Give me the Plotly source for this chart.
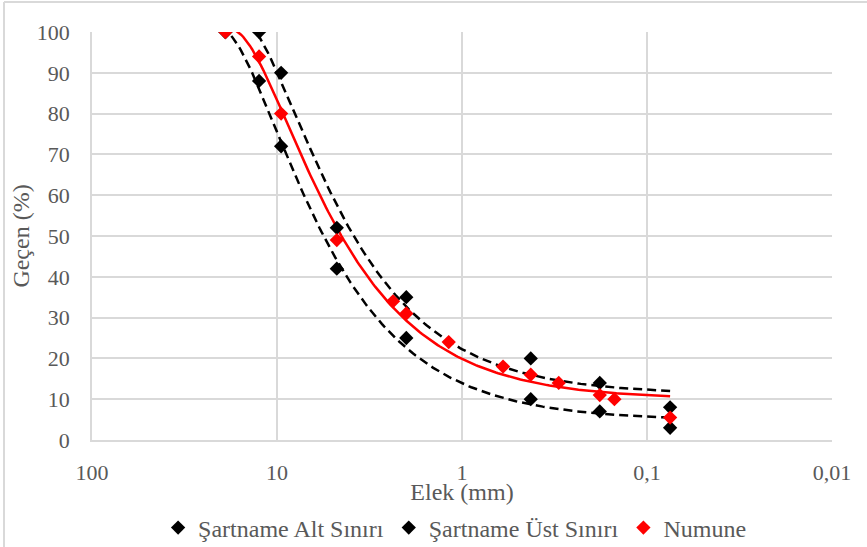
import numpy as np
import plotly.graph_objects as go

# Sieve sizes (mm) and passing (%)
limit_sieves = [19, 12.5, 9.5, 4.75, 2, 0.425, 0.18, 0.075]
lower_limit = [100, 88, 72, 42, 25, 10, 7, 3]
upper_limit = [100, 100, 90, 52, 35, 20, 14, 8]

sample_sieves = [19, 12.5, 9.5, 4.75, 2.36, 2, 1.18, 0.6, 0.425, 0.3, 0.18, 0.15, 0.075]
sample_pass = [100, 94, 80, 49, 34, 31, 24, 18, 16, 14, 11, 10, 5.5]

x_tickvals = [100, 10, 1, 0.1, 0.01]
x_ticktext = ["100", "10", "1", "0,1", "0,01"]

FONT = "serif"
GRID = "#d9d9d9"
TXT = "#595959"


def trend(xs, ys, deg=2):
    xs = np.asarray(xs, float)
    ys = np.asarray(ys, float)
    c = np.polyfit(xs, ys, deg)
    xx = np.logspace(np.log10(xs.min()), np.log10(xs.max()), 200)
    return xx, np.polyval(c, xx)


fig = go.Figure()

for xs, ys, color, dash, w in [
    (limit_sieves, lower_limit, "black", "9px,5px", 2.5),
    (limit_sieves, upper_limit, "black", "9px,5px", 2.5),
    (sample_sieves, sample_pass, "#ff0000", "solid", 2.5),
]:
    tx, ty = trend(xs, ys)
    fig.add_trace(go.Scatter(x=tx, y=ty, mode="lines", showlegend=False,
                             line=dict(color=color, width=w, dash=dash),
                             hoverinfo="skip"))

fig.add_trace(go.Scatter(x=limit_sieves, y=lower_limit, mode="markers", name="Şartname Alt Sınırı",
                         marker=dict(symbol="diamond", size=11, color="black")))
fig.add_trace(go.Scatter(x=limit_sieves, y=upper_limit, mode="markers", name="Şartname Üst Sınırı",
                         marker=dict(symbol="diamond", size=11, color="black")))
fig.add_trace(go.Scatter(x=sample_sieves, y=sample_pass, mode="markers", name="Numune",
                         marker=dict(symbol="diamond", size=11, color="#ff0000")))

fig.update_layout(
    width=867, height=547,
    margin=dict(l=92, r=35, t=32, b=107, autoexpand=False),
    paper_bgcolor="white", plot_bgcolor="white",
    xaxis=dict(type="log", range=[2, -2], tickvals=x_tickvals, ticktext=x_ticktext,
               showgrid=True, gridcolor=GRID, gridwidth=1.5, zeroline=False,
               showline=True, linecolor=GRID, linewidth=1.5, automargin=False,
               ticks="", ticklabelstandoff=12,
               tickfont=dict(family=FONT, size=22, color=TXT),
               title=dict(text="Elek (mm)", font=dict(family=FONT, size=24, color=TXT), standoff=12)),
    yaxis=dict(range=[0, 100], dtick=10, showgrid=True, gridcolor=GRID, gridwidth=1.5,
               zeroline=False, showline=True, linecolor=GRID, linewidth=1.5, ticks="",
               ticklabelstandoff=16, automargin=False,
               tickfont=dict(family=FONT, size=22, color=TXT),
               title=dict(text="Geçen (%)", font=dict(family=FONT, size=24, color=TXT), standoff=0)),
    legend=dict(orientation="h", x=0.49, xanchor="center", yref="container", y=1 - 528 / 547,
                yanchor="middle", font=dict(family=FONT, size=24, color=TXT), itemwidth=30,
                traceorder="normal"),
    shapes=[
        dict(type="line", xref="paper", yref="paper", x0=-88/740, x1=1.2, y0=1 + 30/408, y1=1 + 30/408,
             line=dict(color=GRID, width=2)),
        dict(type="line", xref="paper", yref="paper", x0=-88/740, x1=-88/740, y0=1 + 30/408, y1=-1,
             line=dict(color=GRID, width=2)),
    ],
)

fig.write_html("out.html")
